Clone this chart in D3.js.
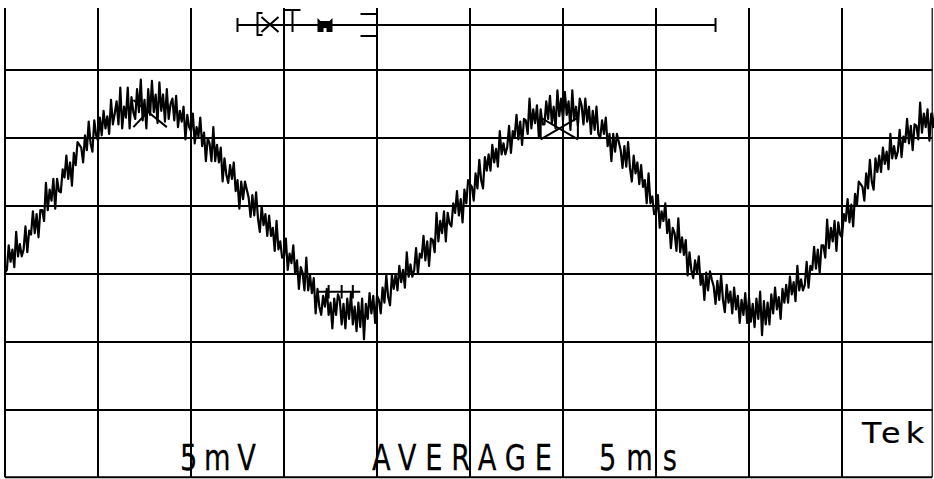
<!DOCTYPE html>
<html>
<head>
<meta charset="utf-8">
<script src="https://cdn.jsdelivr.net/npm/d3@7"></script>
<style>
  body { margin: 0; background: #fff; }
  svg { display: block; }
  .grid line { stroke: #000; stroke-width: 2; }
  .trace { fill: none; stroke: #000; stroke-width: 2.2; stroke-linejoin: round; }
  .mark { fill: none; stroke: #000; stroke-width: 2; }
  .lbl { font-family: "DejaVu Sans", sans-serif; fill: #000; stroke: #000; stroke-width: 0.25; }
</style>
</head>
<body>
<div id="scope"></div>
<script>
// sampling of the averaged trace (ms between samples)
const sampleStep = 0.1;
// trace values in mV, one every 0.1 ms from 0 to 50 ms, one row per ms
const traceMv = [
  -4.9, -4.7, -2.9, -4.1, -3.2, -4.5, -1.9, -3.7, -2.8, -3.7,
  -3.2, -1.5, -3.4, -1.8, -2.1, -0.4, -2.0, -0.6, -2.3, -0.3,
  -0.3, -1.1, 1.7, -0.3, 1.2, 0.4, 2.0, -0.2, 2.0, 1.1,
  1.0, 2.7, 2.1, 3.7, 2.0, 3.2, 1.5, 3.9, 3.0, 4.7,
  4.5, 4.3, 3.2, 5.2, 4.1, 6.2, 4.6, 4.0, 6.3, 5.2,
  4.8, 6.5, 5.2, 7.0, 5.7, 6.6, 5.3, 7.8, 6.0, 6.8,
  7.7, 6.0, 8.7, 5.7, 7.3, 6.5, 8.7, 5.7, 8.0, 6.9,
  6.4, 8.6, 6.9, 9.3, 6.3, 7.8, 5.7, 8.6, 6.7, 9.2,
  6.9, 8.2, 6.1, 9.1, 7.0, 8.2, 6.2, 8.6, 6.4, 7.5,
  7.9, 6.3, 8.1, 5.8, 7.0, 6.2, 7.3, 4.9, 6.7, 5.8,
  5.5, 6.8, 4.6, 5.8, 5.1, 6.5, 4.4, 5.4, 3.3, 5.0,
  4.6, 3.3, 5.8, 3.3, 4.5, 3.2, 4.3, 1.8, 3.5, 2.3,
  1.7, 3.0, 2.0, 3.2, 1.1, 1.9, -0.2, 1.8, 0.5, 1.8,
  1.2, 0.6, -0.8, 0.8, -0.7, 1.0, -0.9, -1.9, 0.0, -1.4,
  -0.6, -2.2, -0.7, -2.2, -1.6, -3.3, -1.1, -3.2, -2.6, -3.8,
  -3.7, -2.4, -4.7, -3.5, -4.2, -2.9, -5.0, -4.0, -6.1, -4.5,
  -4.9, -6.2, -3.8, -6.2, -5.1, -6.4, -5.3, -7.9, -6.1, -7.4,
  -8.0, -6.6, -7.4, -6.1, -8.0, -7.1, -9.0, -6.8, -8.0, -6.5,
  -6.9, -8.7, -7.2, -9.0, -6.8, -8.3, -6.4, -8.7, -7.4, -9.2,
  -7.1, -8.9, -6.8, -9.8, -7.2, -8.3, -6.4, -7.9, -6.6, -8.6,
  -6.6, -6.9, -7.9, -6.0, -7.1, -5.1, -6.7, -7.3, -5.1, -6.1,
  -5.0, -6.2, -4.4, -5.6, -4.7, -6.0, -3.4, -5.2, -4.3, -5.2,
  -4.7, -3.1, -5.0, -3.5, -3.8, -2.2, -4.0, -2.6, -4.4, -2.4,
  -2.5, -3.4, -0.5, -2.6, -1.1, -2.0, -0.4, -2.6, -0.5, -1.3,
  -1.5, 0.2, -0.5, 1.1, -0.7, 0.5, -1.2, 1.2, 0.2, 1.9,
  1.6, 1.4, 0.4, 2.4, 1.3, 3.4, 1.9, 1.3, 3.6, 2.6,
  3.8, 2.6, 4.5, 3.2, 4.2, 2.9, 5.5, 3.8, 4.6, 3.8,
  4.3, 5.9, 3.9, 5.5, 5.1, 6.7, 4.9, 6.2, 4.5, 6.4,
  6.3, 5.3, 7.9, 5.7, 7.1, 6.1, 7.4, 5.1, 7.1, 6.0,
  6.0, 7.7, 6.4, 8.1, 6.1, 7.3, 5.7, 8.5, 6.6, 7.9,
  6.3, 8.4, 6.7, 7.7, 5.6, 8.5, 6.3, 7.3, 5.9, 7.9,
  7.4, 6.0, 7.9, 6.2, 7.3, 5.3, 7.0, 5.6, 7.3, 5.3,
  5.0, 6.3, 5.3, 6.5, 4.4, 5.3, 3.3, 5.3, 4.0, 5.3,
  4.7, 4.1, 2.8, 4.4, 2.9, 4.7, 2.8, 1.8, 3.7, 2.4,
  3.2, 1.6, 3.0, 1.4, 1.9, 0.2, 2.4, 0.2, 0.7, -0.6,
  -0.5, 0.8, -1.6, -0.4, -1.1, 0.2, -2.0, -1.0, -3.1, -1.6,
  -2.0, -3.3, -0.9, -3.4, -2.3, -3.6, -2.5, -5.1, -3.4, -4.7,
  -5.3, -4.0, -4.9, -3.7, -5.8, -5.0, -6.9, -4.9, -6.2, -4.8,
  -5.4, -5.9, -7.2, -5.5, -6.9, -5.1, -6.9, -7.8, -5.8, -7.1,
  -6.3, -7.9, -6.0, -7.6, -6.6, -8.6, -6.9, -8.0, -6.4, -8.6,
  -6.7, -8.5, -7.2, -8.9, -6.8, -8.3, -6.3, -9.5, -7.0, -8.7,
  -7.1, -8.7, -6.5, -7.9, -6.0, -7.6, -6.7, -8.3, -6.1, -7.1,
  -5.8, -7.1, -5.2, -6.5, -5.6, -7.0, -4.4, -6.2, -5.4, -6.2,
  -5.8, -4.1, -6.0, -4.4, -4.7, -3.0, -4.6, -3.2, -4.9, -2.9,
  -2.9, -3.8, -1.0, -3.1, -1.6, -2.6, -1.1, -3.3, -1.2, -2.1,
  -2.3, -0.6, -1.1, 0.5, -1.2, 0.1, -1.5, 0.9, 0.0, 1.8,
  1.6, 1.4, 0.4, 2.4, 1.3, 3.4, 1.8, 1.2, 3.5, 2.5,
  3.7, 2.5, 4.3, 3.1, 4.0, 2.7, 5.3, 3.5, 4.4, 3.5,
  4.0, 5.6, 3.6, 5.1, 4.7, 6.4, 4.6, 5.9, 4.1, 6.0,
  5.9, 4.9, 7.6, 5.4, 6.8, 5.8, 7.1, 4.8, 6.8, 5.8,
  6.9
];
// graticule: 5 ms / div and 5 mV / div
const timeTicks = [0, 5, 10, 15, 20, 25, 30, 35, 40, 45];
const voltTicks = [-15, -10, -5, 0, 5, 10];
// readout texts
const readouts = ['5mV', 'AVERAGE', '5ms'];
const brand = 'Tek';
// cursor bar on top (ms range, mV level)
const cursorSpan = [12.5, 38.2];
const cursorLevel = 13.3;
// X markers on the peaks [t0, t1, v0, v1]
const peakBoxes = [[28.8, 30.8, 4.9, 6.5]];
const peakCross = [[6.9, 8.7, 5.8, 7.8]];
// small bar marker at first trough [t0, t1, v]
const troughBar = [16.8, 19.1, -6.3];
const troughTicks = [17.4, 18.1, 18.7];

const width = 934, height = 479;
const x = d3.scaleLinear().domain([0, 50]).range([5, 935]);
const y = d3.scaleLinear().domain([-20, 15]).range([478, 2]);
const tRight = 49.85, vTop = 14.55, vBottom = -19.95;

const svg = d3.select('#scope').append('svg')
  .attr('width', width)
  .attr('height', height);

svg.append('rect').attr('width', width).attr('height', height).attr('fill', '#fff');

// graticule
const grid = svg.append('g').attr('class', 'grid');
grid.selectAll('.v')
  .data(timeTicks.concat([tRight]))
  .enter().append('line')
  .attr('x1', d => x(d)).attr('x2', d => x(d))
  .attr('y1', y(vTop)).attr('y2', y(vBottom))
  .style('stroke-width', d => d === tRight ? 1.2 : 2);
grid.selectAll('.h')
  .data(voltTicks.concat([vBottom]))
  .enter().append('line')
  .attr('x1', x(0)).attr('x2', x(tRight))
  .attr('y1', d => y(d)).attr('y2', d => y(d));

// the trace
const line = d3.line()
  .x((d, i) => x(i * sampleStep))
  .y(d => y(d));
svg.append('path')
  .datum(traceMv)
  .attr('class', 'trace')
  .attr('d', line);

// peak markers
const marks = svg.append('g').attr('class', 'mark');
peakBoxes.forEach(([t0, t1, v0, v1]) => {
  marks.append('path').attr('d',
    `M${x(t0)},${y(v1)}V${y(v0)}M${x(t1)},${y(v1)}V${y(v0)}` +
    `M${x(t0)},${y(v0)}L${x(t1)},${y(v1)}M${x(t0)},${y(v1)}L${x(t1)},${y(v0)}`);
});
peakCross.forEach(([t0, t1, v0, v1]) => {
  marks.append('path').attr('d',
    `M${x(t0)},${y(v1)}L${x(t1)},${y(v0)}M${x(t0)},${y(v0)}L${x((t0 + t1) / 2)},${y((v0 + v1) / 2 + 0.3)}`);
});
marks.append('path').attr('d', `M${x(troughBar[0])},${y(troughBar[2])}H${x(troughBar[1])}` +
  troughTicks.map(t => `M${x(t)},${y(troughBar[2] + 0.5)}V${y(troughBar[2] - 0.5)}`).join(''));

// cursor bar with its symbols
const cy = y(cursorLevel);
const cursorG = svg.append('g').attr('class', 'mark');
cursorG.append('path').attr('d',
  `M${x(cursorSpan[0])},${cy}H${x(cursorSpan[1])}` +
  `M${x(cursorSpan[0])},${cy - 7}V${cy + 7}M${x(cursorSpan[1])},${cy - 7}V${cy + 7}`);
const bx = x(cursorSpan[0]);
// [X
cursorG.append('path').attr('d',
  `M${bx + 25},${cy - 12}H${bx + 20}V${cy + 10}H${bx + 25}` +
  `M${bx + 24},${cy - 8}L${bx + 41},${cy + 7}M${bx + 24},${cy + 7}L${bx + 41},${cy - 8}`);
// T
cursorG.append('path').attr('d', `M${bx + 47},${cy - 15}H${bx + 63}M${bx + 55},${cy - 15}V${cy + 7}`);
// trigger symbol
cursorG.append('path')
  .attr('fill', '#000').attr('stroke', 'none')
  .attr('d', `M${bx + 80},${cy + 7}V${cy - 7}L${bx + 83},${cy - 4}H${bx + 92}L${bx + 95},${cy - 7}V${cy + 7}Z`);
cursorG.append('rect').attr('x', bx + 86).attr('y', cy + 3).attr('width', 3).attr('height', 4)
  .attr('fill', '#fff').attr('stroke', 'none');
// ]
cursorG.append('path').attr('d', `M${bx + 123},${cy - 11}H${bx + 140}M${bx + 123},${cy + 11}H${bx + 140}`);

// readout labels: narrow plotter-like letters
function label(txt, left, base, span, cap, sx) {
  const fs = cap / 0.729;
  svg.append('text')
    .attr('class', 'lbl')
    .attr('transform', `translate(${left},${base}) scale(${sx},1)`)
    .attr('font-size', fs)
    .attr('textLength', span / sx)
    .attr('lengthAdjust', 'spacing')
    .text(txt);
}
label(readouts[0], 180, 470, 76, 26.5, 0.75);
label(readouts[1], 372, 470, 180, 26.5, 0.75);
label(readouts[2], 599, 470, 78, 26.5, 0.75);
label(brand, 862, 443, 62, 21, 1.1);
</script>
</body>
</html>
